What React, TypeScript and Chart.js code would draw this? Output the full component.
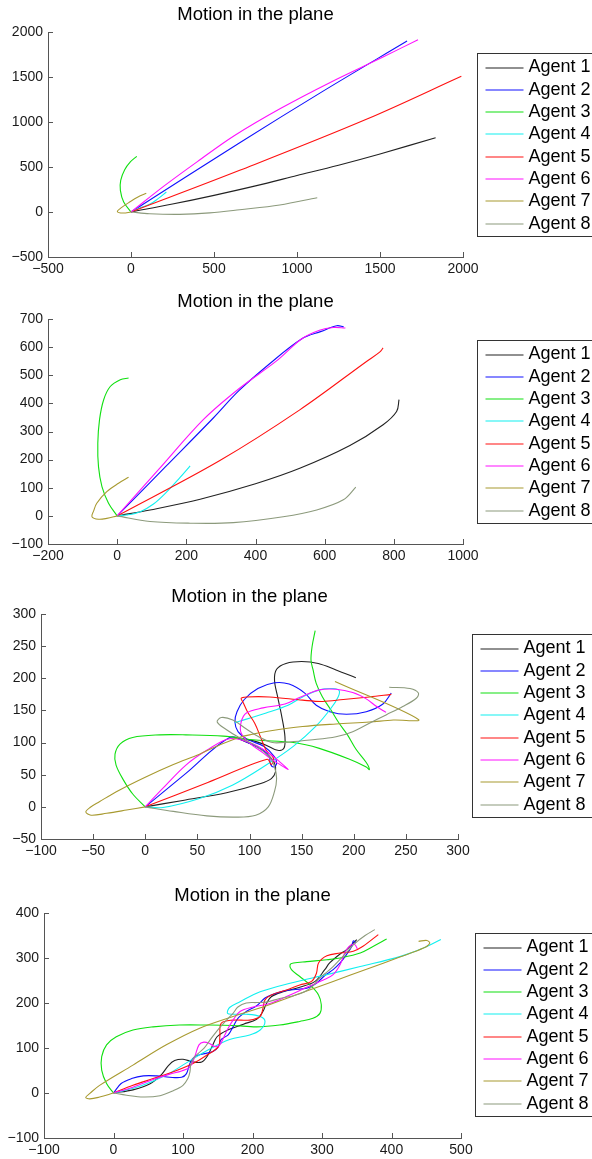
import React, { useEffect, useRef } from 'react';
import { Chart, registerables } from 'chart.js';

Chart.register(...registerables);

type P = [number, number][];

const TITLE = 'Motion in the plane';
const AGENT_LABELS = ['Agent 1', 'Agent 2', 'Agent 3', 'Agent 4', 'Agent 5', 'Agent 6', 'Agent 7', 'Agent 8'];
const AGENT_COLORS = ['#222222', '#1010ff', '#10e010', '#10f0f0', '#ff1010', '#ff10ff', '#a89a30', '#8c9a7c'];

// ---------- Plot 1 ----------
const P1_X_TICKS = [-500, 0, 500, 1000, 1500, 2000];
const P1_Y_TICKS = [-500, 0, 500, 1000, 1500, 2000];
const p1a1: P = [[0, 0], [250, 88], [500, 185], [750, 290], [1000, 405], [1250, 520], [1500, 645], [1835, 826]];
const p1a2: P = [[0, 0], [655, 770], [1150, 1335], [1663, 1900]];
const p1a3: P = [[0, 0], [-44, 111], [-64, 241], [-62, 352], [-38, 470], [-4, 556], [35, 619]];
const p1a4: P = [[0, 0], [52, 45], [112, 85], [163, 148], [213, 222]];
const p1a5: P = [[0, 0], [655, 463], [1418, 1030], [1990, 1508]];
const p1a6: P = [[0, 0], [200, 290], [400, 560], [624, 850], [900, 1150], [1200, 1440], [1518, 1722], [1729, 1915]];
const p1a7: P = [[0, 0], [-48, -11], [-82, 5], [-58, 48], [-8, 111], [42, 167], [92, 208]];
const p1a8: P = [[0, 0], [112, -19], [293, -26], [474, -10], [655, 25], [896, 78], [1122, 159]];

// ---------- Plot 2 ----------
const P2_X_TICKS = [-200, 0, 200, 400, 600, 800, 1000];
const P2_Y_TICKS = [-100, 0, 100, 200, 300, 400, 500, 600, 700];
const p2a1: P = [[0, 0], [95, 21], [240, 59], [400, 114], [528, 169], [673, 250], [769, 324], [808, 371], [815, 413]];
const p2a2: P = [[0, 0], [140, 175], [278, 348], [352, 445], [440, 540], [533, 629], [590, 656], [635, 676], [655, 672]];
const p2a3: P = [[0, 0], [-25, 45], [-44, 104], [-54, 175], [-56, 258], [-51, 342], [-39, 413], [-20, 460], [9, 484], [33, 490]];
const p2a4: P = [[0, 0], [28, 3], [67, 15], [105, 42], [144, 86], [182, 137], [211, 178]];
const p2a5: P = [[0, 0], [297, 197], [528, 377], [721, 549], [759, 582], [769, 597]];
const p2a6: P = [[0, 0], [120, 165], [249, 342], [352, 452], [460, 550], [533, 629], [585, 660], [625, 670], [660, 668]];
const p2a7: P = [[0, 0], [-30, -9], [-54, -12], [-73, -3], [-68, 18], [-59, 45], [-30, 86], [4, 116], [33, 137]];
const p2a8: P = [[0, 0], [95, -20], [211, -26], [336, -24], [480, -3], [577, 21], [654, 57], [690, 102]];

// ---------- Plot 3 ----------
const P3_X_TICKS = [-100, -50, 0, 50, 100, 150, 200, 250, 300];
const P3_Y_TICKS = [-50, 0, 50, 100, 150, 200, 250, 300];
const p3a1: P = [[0, 0], [36, 10], [78, 22], [110, 36], [121, 44], [125, 55], [124, 68], [119, 79], [110, 91], [97, 101], [90, 106], [103, 103], [116, 96], [127, 88], [133, 91], [134, 109], [131, 140], [127, 171], [124, 197], [126, 214], [135, 223], [150, 226], [166, 223], [183, 213], [202, 201]];
const p3a2: P = [[0, 0], [39, 52], [81, 108], [97, 101], [113, 88], [119, 78], [120, 67], [123, 62], [126, 67], [124, 78], [114, 94], [98, 105], [89, 117], [86, 132], [88, 148], [95, 167], [108, 184], [124, 193], [138, 191], [153, 177], [164, 158], [177, 148], [193, 144], [212, 148], [228, 160], [236, 177]];
const p3a3: P = [[0, 0], [-12, 20], [-21, 42], [-28, 65], [-29, 82], [-24, 98], [-12, 108], [14, 112], [39, 112], [75, 110], [106, 104], [142, 100], [167, 91], [196, 74], [212, 62], [215, 58], [212, 69], [202, 90], [194, 112], [186, 130], [178, 151], [170, 171], [164, 192], [161, 213], [159, 228], [160, 249], [163, 274]];
const p3a4: P = [[0, 0], [17, -1], [52, 13], [84, 34], [116, 65], [142, 94], [164, 126], [178, 153], [185, 171], [186, 181], [180, 184], [167, 182], [151, 171], [137, 158], [116, 146], [86, 131]];
const p3a5: P = [[0, 0], [60, 38], [117, 74], [121, 66], [123, 76], [116, 88], [111, 107], [105, 130], [98, 148], [94, 162], [92, 169], [97, 171], [119, 171], [151, 166], [170, 164], [190, 167], [215, 171], [236, 175]];
const p3a6: P = [[0, 0], [17, 29], [39, 65], [59, 88], [81, 106], [103, 98], [119, 83], [129, 70], [137, 58], [127, 68], [121, 74], [113, 84], [100, 99], [92, 115], [92, 132], [97, 146], [113, 154], [134, 160], [148, 170], [167, 182], [183, 183], [199, 178], [212, 168], [222, 156], [231, 147]];
const p3a7: P = [[0, 0], [-18, -5], [-37, -10], [-52, -13], [-57, -8], [-53, -1], [-44, 8], [-25, 26], [1, 47], [27, 66], [52, 82], [71, 96], [90, 108], [103, 113], [119, 118], [151, 125], [183, 129], [215, 132], [238, 135], [262, 136], [182, 195]];
const p3a8: P = [[0, 0], [27, -7], [59, -14], [87, -16], [106, -13], [118, 0], [124, 24], [126, 44], [124, 62], [119, 78], [103, 98], [90, 108], [78, 120], [69, 132], [73, 139], [84, 135], [97, 121], [110, 108], [122, 100], [138, 101], [158, 104], [183, 109], [199, 117], [215, 130], [231, 143], [247, 156], [260, 169], [262, 177], [254, 184], [234, 186]];

// ---------- Plot 4 ----------
const P4_X_TICKS = [-100, 0, 100, 200, 300, 400, 500];
const P4_Y_TICKS = [-100, 0, 100, 200, 300, 400];
const p4a1: P = [[0, 0], [28, 7], [52, 20], [69, 41], [79, 61], [88, 72], [100, 75], [115, 69], [127, 69], [135, 82], [142, 104], [149, 125], [163, 139], [187, 153], [206, 164], [215, 181], [220, 199], [227, 214], [244, 225], [268, 235], [290, 248], [304, 274], [311, 289], [326, 309], [335, 318], [343, 330], [350, 341]];
const p4a2: P = [[0, 0], [11, 21], [26, 32], [43, 38], [62, 38], [81, 35], [98, 35], [105, 43], [110, 66], [117, 81], [129, 87], [143, 92], [151, 103], [155, 119], [165, 129], [172, 147], [179, 166], [191, 181], [206, 194], [218, 211], [227, 218], [249, 228], [278, 233], [292, 244], [304, 261], [316, 274], [326, 289], [335, 307], [343, 326], [345, 338], [349, 333]];
const p4a3: P = [[0, 0], [-10, 21], [-17, 51], [-17, 81], [-10, 107], [4, 125], [28, 140], [57, 147], [95, 151], [134, 151], [172, 150], [206, 147], [239, 151], [268, 159], [287, 166], [297, 177], [299, 196], [295, 218], [283, 240], [268, 259], [256, 274], [254, 285], [259, 289], [278, 292], [307, 296], [326, 300], [355, 311], [374, 326], [393, 342]];
const p4a4: P = [[0, 0], [38, 15], [76, 40], [105, 67], [134, 94], [167, 119], [196, 129], [211, 140], [218, 159], [211, 170], [191, 175], [172, 175], [164, 177], [167, 190], [182, 203], [211, 225], [254, 244], [307, 263], [355, 281], [412, 303], [446, 322], [471, 341]];
const p4a5: P = [[0, 0], [28, 17], [57, 32], [86, 47], [115, 66], [134, 84], [151, 103], [153, 125], [155, 155], [172, 162], [196, 162], [211, 170], [215, 188], [218, 207], [227, 218], [249, 229], [268, 240], [285, 248], [292, 266], [295, 289], [307, 305], [326, 311], [345, 315], [359, 326], [381, 352]];
const p4a6: P = [[0, 0], [28, 13], [57, 30], [81, 42], [98, 49], [110, 58], [117, 81], [123, 107], [130, 113], [138, 110], [146, 103], [153, 107], [159, 125], [165, 144], [172, 162], [182, 181], [201, 191], [225, 199], [254, 218], [278, 235], [302, 251], [316, 263], [326, 285], [333, 312], [339, 326], [347, 330], [351, 320]];
const p4a7: P = [[0, 0], [-20, -9], [-34, -13], [-40, -10], [-34, -1], [-20, 17], [28, 62], [76, 107], [124, 144], [172, 170], [220, 194], [268, 221], [316, 248], [364, 275], [412, 302], [446, 322], [455, 333], [451, 339], [439, 337]];
const p4a8: P = [[0, 0], [19, -5], [43, -9], [67, -6], [86, 5], [100, 17], [107, 32], [110, 47], [111, 62], [115, 77], [122, 88], [130, 99], [139, 118], [147, 134], [155, 149], [165, 166], [172, 177], [179, 191], [191, 200], [206, 201], [220, 202], [239, 210], [259, 216], [275, 225], [287, 238], [295, 253], [304, 265], [316, 281], [328, 300], [338, 317], [347, 332], [362, 350], [376, 363]];

const PLOTS = [
  { paths: [p1a1, p1a2, p1a3, p1a4, p1a5, p1a6, p1a7, p1a8], xTicks: P1_X_TICKS, yTicks: P1_Y_TICKS },
  { paths: [p2a1, p2a2, p2a3, p2a4, p2a5, p2a6, p2a7, p2a8], xTicks: P2_X_TICKS, yTicks: P2_Y_TICKS },
  { paths: [p3a1, p3a2, p3a3, p3a4, p3a5, p3a6, p3a7, p3a8], xTicks: P3_X_TICKS, yTicks: P3_Y_TICKS },
  { paths: [p4a1, p4a2, p4a3, p4a4, p4a5, p4a6, p4a7, p4a8], xTicks: P4_X_TICKS, yTicks: P4_Y_TICKS },
];

// layout frames (page pixels)
const FRAMES = [
  { top: 0, height: 290, left: 48, right: 463, plotTop: 32, plotBottom: 257, legendLeft: 477, legendTop: 53 },
  { top: 290, height: 290, left: 48, right: 463, plotTop: 319, plotBottom: 544, legendLeft: 477, legendTop: 340 },
  { top: 580, height: 300, left: 41, right: 458, plotTop: 614, plotBottom: 839, legendLeft: 472, legendTop: 634 },
  { top: 880, height: 279, left: 44, right: 461, plotTop: 913, plotBottom: 1138, legendLeft: 475, legendTop: 933 },
];

const WIDTH = 592;
const FONT = '"Liberation Sans", Arial, Helvetica, sans-serif';
const AXIS_COLOR = '#555555';
const TEXT_COLOR = '#1a1a1a';

const fmt = (v: number) => (v < 0 ? '\u2212' + Math.abs(v) : String(v));

function PlotCanvas({ index }: { index: number }) {
  const ref = useRef<HTMLCanvasElement | null>(null);
  const frame = FRAMES[index];

  useEffect(() => {
    const spec = PLOTS[index];
    const f = FRAMES[index];
    const canvas = ref.current;
    if (!canvas) return;
    const plotTopRel = f.plotTop - f.top;
    const plotBottomRel = f.plotBottom - f.top;
    const xAxisH = f.height - plotBottomRel;

    const decorPlugin = {
      id: 'decor' + index,
      afterDraw(chart: any) {
        const { ctx, chartArea, scales } = chart;
        ctx.save();
        // inward ticks
        ctx.strokeStyle = AXIS_COLOR;
        ctx.lineWidth = 1;
        ctx.beginPath();
        for (const v of spec.xTicks) {
          const px = Math.round(scales.x.getPixelForValue(v)) + 0.5;
          ctx.moveTo(px, chartArea.bottom);
          ctx.lineTo(px, chartArea.bottom - 5);
        }
        for (const v of spec.yTicks) {
          const py = Math.round(scales.y.getPixelForValue(v)) + 0.5;
          ctx.moveTo(chartArea.left, py);
          ctx.lineTo(chartArea.left + 5, py);
        }
        ctx.stroke();
        // title
        ctx.fillStyle = '#000';
        ctx.font = `18.5px ${FONT}`;
        ctx.textAlign = 'center';
        ctx.textBaseline = 'middle';
        ctx.fillText(TITLE, (chartArea.left + chartArea.right) / 2, chartArea.top - 17);
        // legend box
        const lx = f.legendLeft + 0.5;
        const ly = f.legendTop - f.top + 0.5;
        const lh = 183;
        ctx.fillStyle = '#fff';
        ctx.fillRect(lx, ly, 200, lh);
        ctx.strokeStyle = '#333333';
        ctx.lineWidth = 1;
        ctx.strokeRect(lx, ly, 200, lh);
        ctx.font = `18px ${FONT}`;
        ctx.textAlign = 'left';
        ctx.textBaseline = 'middle';
        for (let i = 0; i < AGENT_LABELS.length; i++) {
          const y = ly + 14 + i * 22.3;
          const yy = Math.round(y);
          ctx.beginPath();
          ctx.strokeStyle = AGENT_COLORS[i];
          ctx.lineWidth = 1.2;
          ctx.moveTo(lx + 8, yy);
          ctx.lineTo(lx + 46, yy);
          ctx.stroke();
          ctx.fillStyle = '#000';
          ctx.fillText(AGENT_LABELS[i], lx + 51, y);
        }
        ctx.restore();
      },
    };

    const tickFont = { family: FONT, size: 14 };
    const chart = new Chart(canvas, {
      type: 'scatter',
      data: {
        datasets: spec.paths.map((p, i) => ({
          label: AGENT_LABELS[i],
          data: p.map(([x, y]) => ({ x, y })),
          borderColor: AGENT_COLORS[i],
          backgroundColor: AGENT_COLORS[i],
          borderWidth: 1.1,
          showLine: true,
          pointRadius: 0,
          pointHoverRadius: 0,
          tension: 0.35,
          fill: false,
          order: 8 - i,
        })),
      },
      options: {
        animation: false,
        responsive: false,
        events: [],
        layout: { padding: { left: 0, top: plotTopRel, right: WIDTH - f.right, bottom: 0 } },
        plugins: { legend: { display: false }, title: { display: false }, tooltip: { enabled: false }, colors: { enabled: false } },
        scales: {
          x: {
            type: 'linear',
            min: spec.xTicks[0],
            max: spec.xTicks[spec.xTicks.length - 1],
            afterBuildTicks: (s: any) => { s.ticks = spec.xTicks.map((v) => ({ value: v })); },
            afterFit: (s: any) => { s.height = xAxisH; },
            grid: { display: false, drawTicks: false },
            border: { display: true, color: AXIS_COLOR, width: 1 },
            ticks: { autoSkip: false, maxRotation: 0, padding: 4, color: TEXT_COLOR, font: tickFont, callback: (v: any) => fmt(Number(v)) },
          },
          y: {
            type: 'linear',
            min: spec.yTicks[0],
            max: spec.yTicks[spec.yTicks.length - 1],
            afterBuildTicks: (s: any) => { s.ticks = spec.yTicks.map((v) => ({ value: v })); },
            afterFit: (s: any) => { s.width = f.left; },
            grid: { display: false, drawTicks: false },
            border: { display: true, color: AXIS_COLOR, width: 1 },
            ticks: { autoSkip: false, padding: 5, color: TEXT_COLOR, font: tickFont, callback: (v: any) => fmt(Number(v)) },
          },
        },
      } as any,
      plugins: [decorPlugin],
    });
    return () => chart.destroy();
  }, [index]);

  return (
    <canvas
      ref={ref}
      width={WIDTH}
      height={frame.height}
      style={{ position: 'absolute', left: 0, top: frame.top, width: WIDTH, height: frame.height, display: 'block' }}
    />
  );
}

export default function App() {
  return (
    <div style={{ position: 'absolute', left: 0, top: 0, width: WIDTH, height: 1159, overflow: 'hidden', background: '#fff' }}>
      {FRAMES.map((_, i) => (
        <PlotCanvas key={i} index={i} />
      ))}
    </div>
  );
}
